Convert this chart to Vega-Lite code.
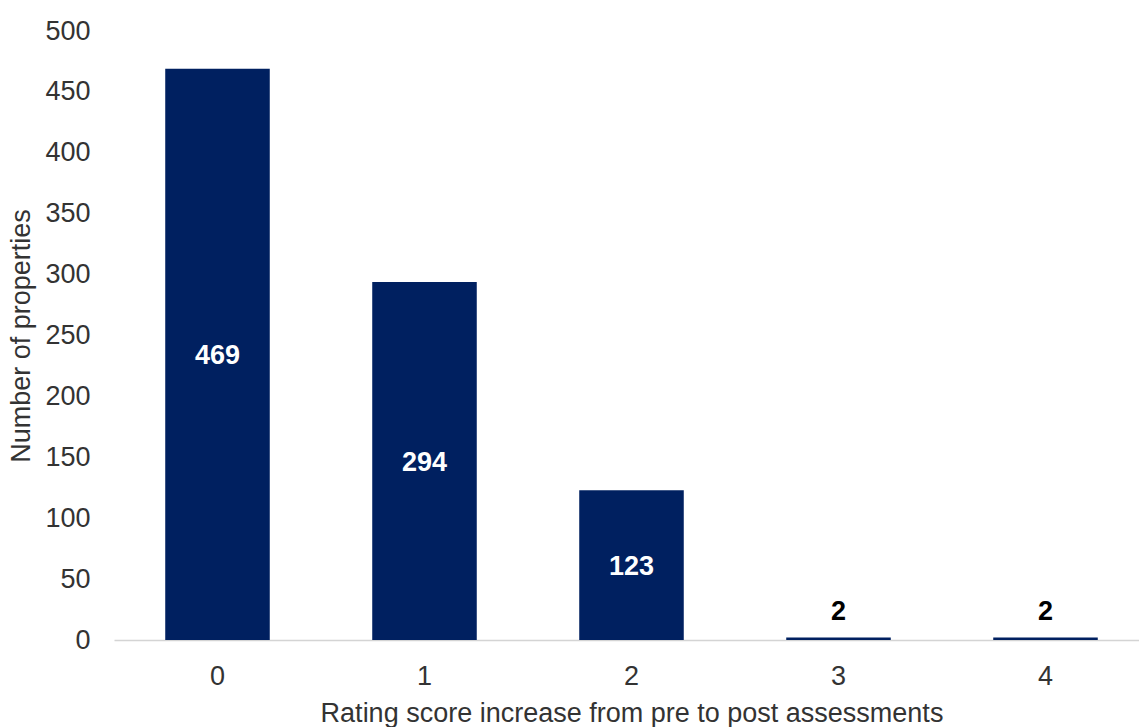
{
  "$schema": "https://vega.github.io/schema/vega-lite/v6.json",
  "autosize": "none",
  "width": 1025,
  "height": 609,
  "padding": {"left": 114, "top": 31, "right": 0, "bottom": 87},
  "background": "white",
  "config": {
    "view": {"stroke": null},
    "font": "Liberation Sans",
    "axis": {"labelFont": "Liberation Sans", "titleFont": "Liberation Sans", "grid": false}
  },
  "data": {
    "values": [
      {"increase": "0", "count": 469},
      {"increase": "1", "count": 294},
      {"increase": "2", "count": 123},
      {"increase": "3", "count": 2},
      {"increase": "4", "count": 2}
    ]
  },
  "encoding": {
    "x": {
      "field": "increase",
      "type": "nominal",
      "sort": null,
      "scale": {"range": [0, 1035], "paddingInner": 0.495, "paddingOuter": 0.2475},
      "axis": {
        "title": "Rating score increase from pre to post assessments",
        "labelAngle": 0,
        "labelFontSize": 27,
        "labelColor": "#333333",
        "labelPadding": 23,
        "ticks": false,
        "tickSize": 0,
        "domainColor": "#d4d4d4",
        "domainWidth": 1.5,
        "titleFontSize": 27,
        "titleFontWeight": "normal",
        "titleColor": "#333333",
        "titlePadding": 11
      }
    },
    "y": {
      "field": "count",
      "type": "quantitative",
      "scale": {"domain": [0, 500]},
      "axis": {
        "title": "Number of properties",
        "values": [0, 50, 100, 150, 200, 250, 300, 350, 400, 450, 500],
        "labelFontSize": 27,
        "labelColor": "#333333",
        "labelPadding": 24,
        "ticks": false,
        "tickSize": 0,
        "domain": false,
        "titleFontSize": 27,
        "titleFontWeight": "normal",
        "titleColor": "#333333",
        "titlePadding": 9
      }
    }
  },
  "layer": [
    {
      "mark": {"type": "bar", "color": "#002060"}
    },
    {
      "transform": [{"filter": "datum.count >= 50"}],
      "mark": {
        "type": "text",
        "color": "white",
        "fontWeight": "bold",
        "fontSize": 27,
        "baseline": "middle",
        "dy": {"expr": "(scale('y', 0) - scale('y', datum.count)) / 2 + 2"}
      },
      "encoding": {
        "text": {"field": "count", "type": "quantitative"}
      }
    },
    {
      "transform": [{"filter": "datum.count < 50"}],
      "mark": {"type": "text", "color": "black", "fontWeight": "bold", "fontSize": 27, "baseline": "bottom", "dy": -12},
      "encoding": {
        "text": {"field": "count", "type": "quantitative"}
      }
    }
  ]
}
